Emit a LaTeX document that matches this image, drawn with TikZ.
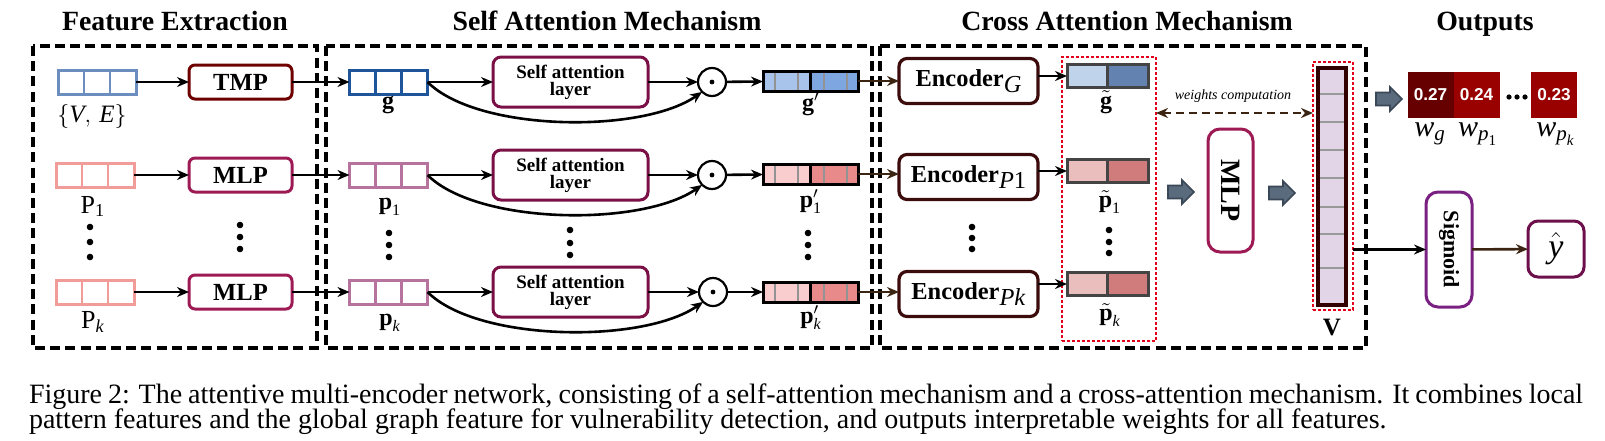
\documentclass[tikz,border=0pt]{standalone}
\usepackage{fontspec}
\usepackage{amsmath}
\setmainfont{Liberation Serif}
\newfontfamily\sansfont{Liberation Sans}
\usetikzlibrary{arrows.meta,calc}

\definecolor{cVE}{HTML}{6C8EBF}
\definecolor{cP}{HTML}{F19C99}
\definecolor{cG}{HTML}{1F559B}
\definecolor{cPm}{HTML}{B5739D}
\definecolor{cTMP}{HTML}{6F0000}
\definecolor{cMLP}{HTML}{9E1A54}
\definecolor{cSA}{HTML}{7A1045}
\definecolor{cEnc}{HTML}{3C0C0C}
\definecolor{cGl}{HTML}{A9C4EB}
\definecolor{cGr}{HTML}{7EA6E0}
\definecolor{cPl}{HTML}{F9CDCD}
\definecolor{cPr}{HTML}{E88A8A}
\definecolor{cTGl}{HTML}{BFD4EA}
\definecolor{cTGr}{HTML}{6482B0}
\definecolor{cTPl}{HTML}{EBBEBE}
\definecolor{cTPr}{HTML}{D17C7C}
\definecolor{cDk}{HTML}{444444}
\definecolor{cRed}{HTML}{E3001B}
\definecolor{cVf}{HTML}{E1D5E7}
\definecolor{cVb}{HTML}{330000}
\definecolor{cW1}{HTML}{660000}
\definecolor{cW2}{HTML}{990000}
\definecolor{cSig}{HTML}{7B2083}
\definecolor{cYh}{HTML}{6D0F4A}
\definecolor{cBrown}{HTML}{3B2412}
\definecolor{cBA}{HTML}{5A6B7D}
\definecolor{cBAd}{HTML}{3A4756}

\newcommand\vticks[2]{\foreach \ff in {#2}{\draw[#1] ($(path picture bounding box.south west)!\ff!(path picture bounding box.south east)$) -- ($(path picture bounding box.north west)!\ff!(path picture bounding box.north east)$);}}
\newcommand\hticks[2]{\foreach \ff in {#2}{\draw[#1] ($(path picture bounding box.north west)!\ff!(path picture bounding box.south west)$) -- ($(path picture bounding box.north east)!\ff!(path picture bounding box.south east)$);}}
\newcommand\blockarrow[1]{\draw[bastyle] (#1) ++(-13,-6.5) -- ++(14,0) -- ++(0,-5.5) -- ++(12,12) -- ++(-12,12) -- ++(0,-5.5) -- ++(-14,0) -- cycle;}

\tikzset{
 ttl/.style={font=\fontsize{13.9}{16}\selectfont\bfseries, anchor=base},
 lbl/.style={anchor=base, font=\fontsize{12}{14}\selectfont},
 dbox/.style={line width=1.6pt, dash pattern=on 5pt off 2.6pt},
 rdot/.style={draw=cRed, line width=1.4pt, dash pattern=on 1.3pt off 1.2pt},
 vec3/.style={draw=#1, line width=1.5pt, minimum width=39pt, minimum height=12pt, fill=white,
   path picture={\vticks{#1,line width=1.4pt}{0.3333,0.6667}}},
 vec6/.style 2 args={draw=black, line width=1.5pt, minimum width=47.5pt, minimum height=10pt,
   path picture={\fill[#1] (path picture bounding box.south west) rectangle (path picture bounding box.north);
     \fill[#2] (path picture bounding box.south) rectangle (path picture bounding box.north east);
     \vticks{gray!85,line width=1.3pt}{0.126,0.368,0.642,0.884}
     \vticks{black,line width=1.5pt}{0.505}}},
 vec2/.style 2 args={draw=cDk, line width=1.5pt, minimum width=40.5pt, minimum height=11.5pt,
   path picture={\fill[#1] (path picture bounding box.south west) rectangle (path picture bounding box.north);
     \fill[#2] (path picture bounding box.south) rectangle (path picture bounding box.north east);
     \vticks{cDk,line width=1.4pt}{0.5}}},
 arr/.style={-{Stealth[length=6pt,width=5pt]}, line width=1.3pt},
 barr/.style={arr, draw=cBrown},
 dbarr/.style={{Stealth[length=6pt,width=5pt]}-{Stealth[length=6pt,width=5pt]}, line width=1.3pt, draw=cBrown, dash pattern=on 4pt off 2.5pt},
 fbox/.style={draw=#1, line width=1.5pt, rounded corners=3pt, minimum width=51.5pt, minimum height=17pt, font=\fontsize{12.3}{14}\selectfont\bfseries},
 sabox/.style={draw=cSA, line width=1.5pt, rounded corners=4pt, minimum width=77.5pt, minimum height=25pt, align=center, font=\fontsize{9.5}{8.6}\selectfont\bfseries},
 encbox/.style={draw=cEnc, line width=1.6pt, rounded corners=4pt, minimum width=69.5pt, minimum height=22.5pt, font=\fontsize{12.2}{14}\selectfont\bfseries},
 odot/.style={circle, draw, line width=1.1pt, minimum size=14pt, path picture={\fill (path picture bounding box.center) circle (2.4);}},
 bastyle/.style={fill=cBA, draw=cBAd, line width=0.8pt, line join=miter},
 wc/.style={minimum width=23pt, minimum height=23pt, text=white, font=\sansfont\bfseries\fontsize{8.6}{10}\selectfont},
 vbar/.style={draw=cVb, fill=cVf, line width=1.6pt, minimum width=14pt, minimum height=118.5pt,
   path picture={\hticks{gray!80,line width=1.2pt}{0.110,0.228,0.346,0.464,0.586,0.700,0.844}}},
 rvbox/.style={rounded corners=6pt, line width=1.5pt, minimum width=61.5pt, minimum height=22.5pt, font=\fontsize{14}{16}\selectfont\bfseries, rotate=-90},
}

\begin{document}
\begin{tikzpicture}[x=0.5pt,y=-0.5pt, every node/.append style={inner sep=0pt, outer sep=0pt}]
\useasboundingbox (0,0) rectangle (1605,440);

% titles
\node[ttl] (t1) at (175,30) {Feature Extraction};
\node[ttl] (t2) at (607,30) {Self Attention Mechanism};
\node[ttl] (t3) at (1127,30) {Cross Attention Mechanism};
\node[ttl] (t4) at (1485,30) {Outputs};

% dashed frames
\draw[dbox] (33,46) rectangle (317,348);
\draw[dbox] (326,46) rectangle (872,348);
\draw[dbox] (880,46) rectangle (1366,348);

% ---------- feature extraction
\node[vec3=cVE] (ve) at (97,82) {};
\node[vec3=cP] (pv1) at (95,175) {};
\node[vec3=cP] (pvk) at (95,292) {};
\node[lbl, font=\fontsize{12.5}{14}\selectfont] (vel) at (92,122) {$\{\textit{V},\,\textit{E}\}$};
\node[lbl, font=\fontsize{13}{14}\selectfont] (pv1l) at (93,213) {$\text{P}_{\text{1}}$};
\node[lbl, font=\fontsize{13}{14}\selectfont] (pvkl) at (93,328) {$\text{P}_{\textit{k}}$};
\node[fbox=cTMP] (tmp) at (240.5,82) {TMP};
\node[fbox=cMLP] (mlp1) at (240.5,175) {MLP};
\node[fbox=cMLP] (mlpk) at (240.5,292) {MLP};
\draw[arr] (ve) -- (tmp);
\draw[arr] (pv1) -- (mlp1);
\draw[arr] (pvk) -- (mlpk);

% ---------- self attention
\node[vec3=cG] (g) at (388.5,82) {};
\node[vec3=cPm] (p1) at (388.5,175) {};
\node[vec3=cPm] (pk) at (388.5,292) {};
\node[lbl, font=\fontsize{12}{14}\selectfont] (gl) at (388,108) {$\textbf{g}$};
\node[lbl, font=\fontsize{12}{14}\selectfont] (p1l) at (390,209) {$\textbf{p}_{\text{1}}$};
\node[lbl, font=\fontsize{12}{14}\selectfont] (pkl) at (390,325) {$\textbf{p}_{\textit{k}}$};
\draw[arr] (tmp) -- (g);
\draw[arr] (mlp1) -- (p1);
\draw[arr] (mlpk) -- (pk);

\node[sabox] (sa1) at (570.5,82) {Self attention\\layer};
\node[sabox] (sa2) at (570.5,175) {Self attention\\layer};
\node[sabox] (sa3) at (570.5,292) {Self attention\\layer};
\node[odot] (c1) at (712,82) {};
\node[odot] (c2) at (712,175) {};
\node[odot] (c3) at (713,292) {};
\node[vec6={cGl}{cGr}] (gp) at (810.5,81) {};
\node[vec6={cPl}{cPr}] (pp1) at (810.5,174) {};
\node[vec6={cPl}{cPr}] (ppk) at (810.5,292) {};
\node[lbl, font=\fontsize{12}{14}\selectfont] (gpl) at (811,110) {$\textbf{g}^{\prime}$};
\node[lbl, font=\fontsize{12}{14}\selectfont] (pp1l) at (811,207) {$\textbf{p}^{\prime}_{\text{1}}$};
\node[lbl, font=\fontsize{12}{14}\selectfont] (ppkl) at (811,323) {$\textbf{p}^{\prime}_{\textit{k}}$};

\foreach \v/\s/\c/\o in {g/sa1/c1/gp, p1/sa2/c2/pp1, pk/sa3/c3/ppk}{
  \draw[arr] (\v) -- (\s);
  \draw[arr] (\s) -- (\c);
  \draw[arr] (\v.east) .. controls +(50,50) and +(-60,42) .. (\c.south west);
  \draw[arr] (\c) -- (\o);
}

% ---------- cross attention
\node[encbox] (eg) at (968.5,81) {Encoder\raisebox{-3pt}{\mdseries\textit{G}}};
\node[encbox] (ep1) at (968.5,177) {Encoder\raisebox{-3pt}{\mdseries\textit{P}1}};
\node[encbox] (epk) at (968.5,294) {Encoder\raisebox{-3pt}{\mdseries\textit{Pk}}};
\draw[barr] (gp) -- (gp -| eg.west);
\draw[barr] (pp1) -- (pp1 -| ep1.west);
\draw[barr] (ppk) -- (ppk -| epk.west);

\node[rdot, minimum width=47pt, minimum height=142pt] (rb1) at (1109,199) {};
\node[vec2={cTGl}{cTGr}] (gt) at (1107.5,76) {};
\node[vec2={cTPl}{cTPr}] (pt1) at (1107.5,171) {};
\node[vec2={cTPl}{cTPr}] (ptk) at (1107.5,284) {};
\draw[arr] (eg.east |- gt) -- (gt);
\draw[arr] (ep1.east |- pt1) -- (pt1);
\draw[arr] (epk.east |- ptk) -- (ptk);
\node[lbl, font=\fontsize{12}{14}\selectfont] (gtl) at (1106,108) {$\tilde{\textbf{g}}$};
\node[lbl, font=\fontsize{12}{14}\selectfont] (pt1l) at (1110,207) {$\tilde{\textbf{p}}_{\text{1}}$};
\node[lbl, font=\fontsize{12}{14}\selectfont] (ptkl) at (1110,320) {$\tilde{\textbf{p}}_{\textit{k}}$};

% vertical dots
\foreach \x/\a/\b/\c in {90/227/242/257, 240/225/237/249, 389/233/245/257, 570/230/243/255, 808/233/245/257, 972/227/238/249, 1109/230/242/253}{
  \fill (\x,\a) circle (3.3); \fill (\x,\b) circle (3.3); \fill (\x,\c) circle (3.3);
}

% MLP + block arrows
\coordinate (ba1) at (1181,192);
\coordinate (ba2) at (1282,193);
\coordinate (ba3) at (1389,99);
\blockarrow{ba1}
\blockarrow{ba2}
\blockarrow{ba3}
\node[rvbox, draw=cMLP] (mlp2) at (1230.5,190.5) {MLP};

% V vector
\node[rdot, minimum width=20pt, minimum height=124pt] (vr) at (1333,186) {};
\node[vbar] (vb) at (1332,186.5) {};
\node[lbl, font=\fontsize{12.5}{14}\selectfont\bfseries] (vl) at (1332,335) {V};
\coordinate (wy) at (1230,113);
\draw[dbarr] (rb1.east |- wy) -- (vr.west |- wy);
\node[anchor=base, font=\fontsize{7}{8}\selectfont\itshape] (wcl) at (1233,99) {weights computation};

% outputs
\node[wc, fill=cW1] (w1) at (1430.5,95) {0.27};
\node[wc, fill=cW2] (w2) at (1476.5,95) {0.24};
\node[wc, fill=cW2] (w3) at (1554,95) {0.23};
\foreach \x in {1509,1517,1525} \fill (\x,97) circle (2.6);
\node[lbl, font=\fontsize{15}{17}\selectfont] (wgl) at (1430,136) {$\textit{w}_{\textit{g}}$};
\node[lbl, font=\fontsize{15}{17}\selectfont] (wp1l) at (1478,136) {$\textit{w}_{\textit{p}_{\text{1}}}$};
\node[lbl, font=\fontsize{15}{17}\selectfont] (wpkl) at (1556,136) {$\textit{w}_{\textit{p}_{\textit{k}}}$};

\node[rvbox, draw=cSig, minimum width=57.5pt, minimum height=23pt, font=\fontsize{11}{13}\selectfont\bfseries] (sig) at (1449,249.5) {Sigmoid};
\node[draw=cYh, line width=1.5pt, rounded corners=5pt, minimum width=28pt, minimum height=28pt, font=\fontsize{17}{18}\selectfont] (yh) at (1556,249) {$\hat{\textit{y}}$};
\draw[arr] (vr.east |- sig) -- (sig);
\draw[barr] (sig) -- (yh);

% caption
\node[anchor=base west, font=\fontsize{14}{11}\selectfont] (cap1) at (29,403.5) {\makebox[777pt][s]{Figure 2: The attentive multi-encoder network, consisting of a self-attention mechanism and a cross-attention mechanism. It combines local}};
\node[anchor=base west, font=\fontsize{14}{11}\selectfont] (cap2) at (29,428.5) {pattern features and the global graph feature for vulnerability detection, and outputs interpretable weights for all features.};
\end{tikzpicture}
\end{document}
